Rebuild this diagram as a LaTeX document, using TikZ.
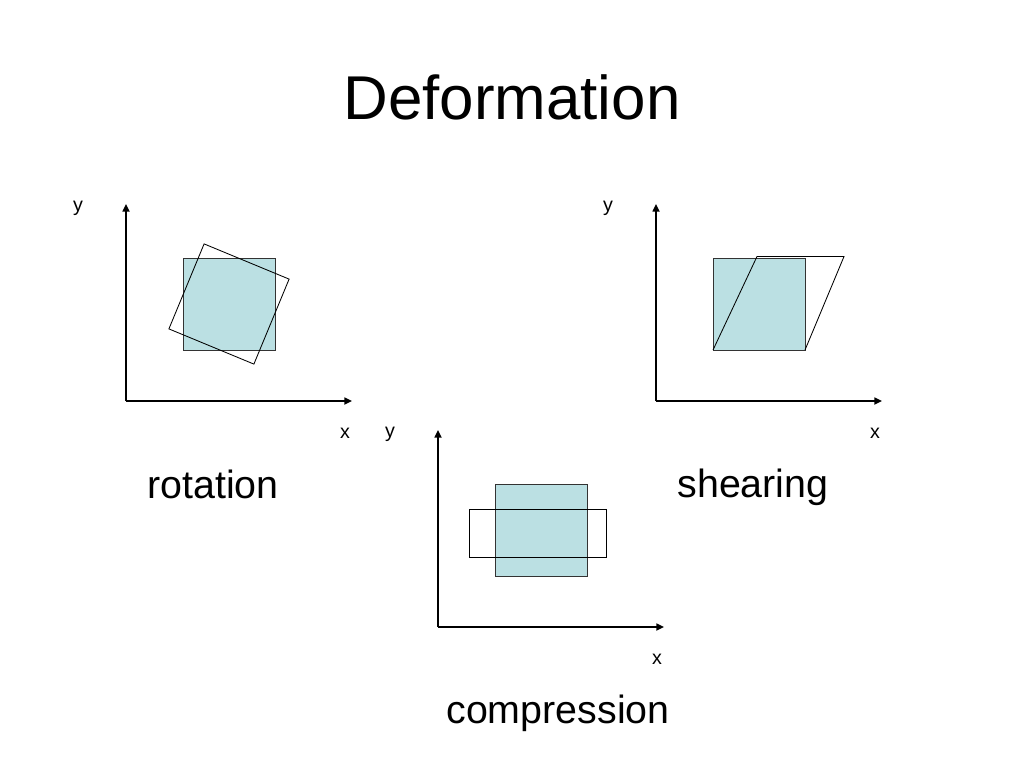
\documentclass[tikz,border=0pt]{standalone}
\usepackage{fontspec}
\setmainfont{Liberation Sans}
\usetikzlibrary{arrows.meta,positioning,calc}
\definecolor{blockfill}{RGB}{187,224,227}
\tikzset{
  axisline/.style={line width=1.1pt,-{Triangle[length=5.5pt,width=5pt]}},
  axislabel/.style={font=\fontsize{14}{16}\selectfont},
  block/.style={fill=blockfill,draw=black!80,line width=0.6pt},
  outline/.style={draw=black,line width=0.6pt},
  caption/.style={font=\fontsize{28}{32}\selectfont}
}
% axes: name, origin x, origin y
\newcommand{\axispair}[3]{%
  \coordinate (#1o) at (#2,#3);
  \coordinate (#1x) at ($(#1o)+(226,0)$);
  \coordinate (#1y) at ($(#1o)+(0,-197)$);
  \draw[axisline] (#1o) -- (#1x);
  \draw[axisline] (#1o) -- (#1y);
  \node[axislabel] (#1xlab) at ($(#1o)+(219,32)$) {x};
  \node[axislabel] (#1ylab) at ($(#1o)+(-48,-193)$) {y};
}

\begin{document}
\begin{tikzpicture}[x=0.025cm,y=-0.025cm]
	\useasboundingbox (0,0) rectangle (1024,768);
	\node[font=\fontsize{44}{50}\selectfont] (title) at (512,97) {Deformation};
	% rotation
	\axispair{rot}{126}{401}
	\draw[block] (183,258) rectangle (275,350);
	\draw[outline,rotate around={-22.5:(229,304)}] (183,258) rectangle (275,350);
	\node[caption] (rotlab) at (213,484) {rotation};
	% shearing
	\axispair{shr}{656}{401}
	\draw[block] (713,258) rectangle (805,350);
	\draw[outline] (713,350) -- (757,256.5) -- (844,256.5) -- (805,350);
	\node[caption] (shrlab) at (753,487) {shearing};
	% compression
	\axispair{cmp}{438}{627}
	\draw[block] (495,484) rectangle (587,576);
	\draw[outline] (469,509) rectangle (606,557);
	\node[caption] (cmplab) at (558,713) {compression};
\end{tikzpicture}
\end{document}
